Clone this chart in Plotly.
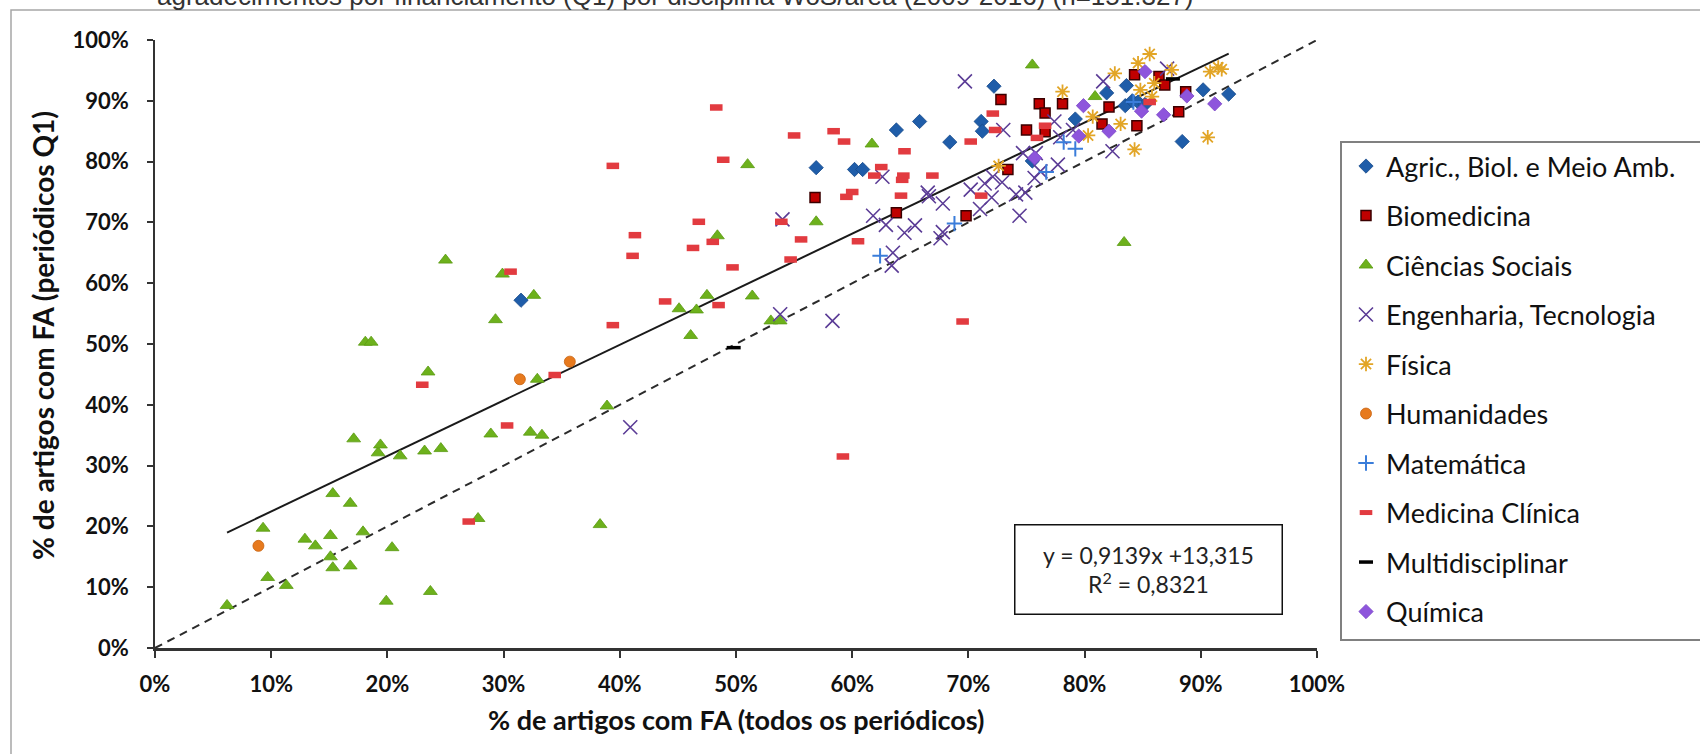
import plotly.graph_objects as go

# ---------------- data (percent values) ----------------
agric_x = [31.5, 56.9, 60.2, 60.9, 63.8, 65.8, 68.4, 71.1, 71.2, 72.2, 75.5, 79.2, 81.9, 83.6, 83.5, 84.1, 84.6, 85.2, 88.4, 90.2, 92.4]
agric_y = [57.2, 79.0, 78.7, 78.7, 85.2, 86.6, 83.2, 86.6, 85.0, 92.4, 80.1, 87.0, 91.3, 92.5, 89.2, 90.0, 89.8, 89.4, 83.3, 91.8, 91.1]

biomed_x = [56.8, 63.8, 69.8, 72.8, 73.4, 75.0, 76.1, 76.6, 76.6, 78.1, 81.5, 82.1, 84.3, 84.5, 86.4, 86.9, 88.1, 88.7]
biomed_y = [74.1, 71.6, 71.1, 90.2, 78.7, 85.2, 89.5, 88.0, 84.9, 89.5, 86.2, 89.0, 94.3, 85.9, 94.0, 92.6, 88.2, 91.5]

sociais_x = [6.2, 9.3, 9.7, 11.3, 12.9, 13.8, 15.1, 15.1, 15.3, 15.3, 16.8, 16.8, 17.1, 17.9, 18.1, 18.6,
             19.2, 19.4, 19.9, 20.4, 21.1, 23.2, 23.5, 23.7, 24.6, 25.0, 27.8, 28.9, 29.3, 29.9, 32.3,
             32.6, 32.9, 33.3, 38.3, 38.9, 45.1, 46.1, 46.6, 47.5, 48.4, 51.0, 51.4, 53.0, 53.8, 56.9,
             61.7, 75.5, 80.9, 83.4]
sociais_y = [7.0, 19.7, 11.6, 10.3, 17.9, 16.8, 18.5, 15.0, 13.2, 25.4, 23.8, 13.5, 34.4, 19.1, 50.3, 50.3,
             32.1, 33.4, 7.7, 16.5, 31.6, 32.4, 45.4, 9.3, 32.8, 63.8, 21.3, 35.2, 54.0, 61.5, 35.5,
             58.0, 44.2, 35.0, 20.3, 39.8, 55.8, 51.4, 55.6, 58.0, 67.8, 79.5, 57.9, 53.8, 53.8, 70.1,
             82.9, 95.9, 90.7, 66.7]

eng_x = [40.9, 53.8, 54.0, 58.3, 61.8, 62.6, 62.9, 63.5, 63.4, 64.5, 65.4, 66.5, 66.6, 67.8, 67.8, 67.6,
         69.7, 70.2, 71.0, 71.4, 72.1, 72.0, 72.9, 73.0, 74.1, 74.4, 74.7, 74.9, 75.8, 75.7, 76.2, 77.4,
         77.7, 77.9, 79.0, 81.6, 82.4, 87.1]
eng_y = [36.3, 54.9, 70.5, 53.8, 71.1, 77.5, 69.6, 65.0, 62.9, 68.3, 69.5, 74.9, 74.3, 73.1, 68.4, 67.4,
         93.2, 75.4, 72.2, 76.4, 77.5, 74.1, 76.6, 85.2, 74.6, 71.1, 81.4, 74.9, 81.4, 77.3, 78.4, 86.6,
         79.5, 84.0, 85.2, 93.2, 81.7, 95.3]

fisica_x = [72.6, 78.1, 80.3, 80.7, 82.6, 83.1, 84.3, 84.6, 84.8, 85.6, 85.8, 86.0, 87.5, 90.6, 90.8, 91.5, 91.8]
fisica_y = [79.3, 91.5, 84.3, 87.4, 94.5, 86.2, 82.0, 96.2, 91.8, 97.7, 90.7, 92.9, 95.1, 84.0, 94.8, 95.5, 95.2]

human_x = [8.9, 31.4, 35.7]
human_y = [16.8, 44.2, 47.1]

mat_x = [62.4, 68.8, 76.7, 78.2, 79.2, 84.2]
mat_y = [64.5, 69.8, 78.3, 83.2, 82.1, 89.8]

medclin_x = [23.0, 27.0, 30.3, 30.6, 34.4, 39.4, 39.4, 41.1, 41.3, 43.9, 46.3, 46.8, 48.0, 48.3, 48.5, 48.9,
             49.7, 53.9, 54.7, 55.0, 55.6, 58.4, 59.2, 59.3, 59.5, 60.0, 60.5, 61.9, 62.5, 64.2, 64.3, 64.4,
             64.5, 66.9, 69.5, 70.2, 71.1, 72.1, 72.3, 75.9, 76.6, 85.6]
medclin_y = [43.3, 20.8, 36.6, 61.9, 44.9, 79.3, 53.1, 64.5, 67.9, 57.0, 65.8, 70.1, 66.8, 88.9, 56.4, 80.3,
             62.6, 70.1, 63.9, 84.3, 67.2, 85.0, 31.5, 83.3, 74.2, 75.0, 66.9, 77.7, 79.1, 74.4, 77.0, 77.7,
             81.7, 77.7, 53.7, 83.3, 74.4, 87.9, 85.2, 83.9, 85.9, 89.8]

multi_x = [49.8, 87.6]
multi_y = [49.4, 93.6]

quim_x = [75.7, 79.5, 79.9, 82.1, 84.9, 85.2, 86.8, 88.8, 91.2]
quim_y = [80.6, 84.2, 89.2, 85.0, 88.3, 94.8, 87.7, 90.8, 89.5]

trend_slope = 0.9139
trend_intercept = 13.315
diag = [0, 100]
x_ticks = list(range(0, 101, 10))
y_ticks = list(range(0, 101, 10))

series_names = ["Agric., Biol. e Meio Amb.", "Biomedicina", "Ciências Sociais", "Engenharia, Tecnologia",
                "Física", "Humanidades", "Matemática", "Medicina Clínica", "Multidisciplinar", "Química"]

# ---------------- figure ----------------
W, H = 1700, 754
ML, MR, MT, MB = 155, 383, 40, 106
PW = W - ML - MR
PH = H - MT - MB


def px_x(px):
    return (px - ML) / PW


def px_y(py):
    return (H - MB - py) / PH


fig = go.Figure()

all_x = agric_x + biomed_x + sociais_x + eng_x + fisica_x + human_x + mat_x + medclin_x + multi_x + quim_x
tx = [min(all_x), max(all_x)]
ty = [trend_slope * v + trend_intercept for v in tx]

fig.add_trace(go.Scatter(x=diag, y=diag, mode="lines", showlegend=False, hoverinfo="skip",
                         line=dict(color="#2b2b2b", width=2, dash="8px,6px")))
fig.add_trace(go.Scatter(x=tx, y=ty, mode="lines", showlegend=False, hoverinfo="skip",
                         line=dict(color="#1a1a1a", width=2)))

styles = [
    (agric_x, agric_y, "diamond", 11, "#1F5DA9", "#174A8A", 0.8),
    (biomed_x, biomed_y, "square", 10, "#C00000", "#3a0000", 1.5),
    (sociais_x, sociais_y, "triangle-up", 12, "#6DB11C", "#5A9A12", 0.8),
    (eng_x, eng_y, "x-thin-open", 14, "#5B3C96", "#5B3C96", 1.6),
    (fisica_x, fisica_y, "asterisk-open", 12, "#E2A526", "#E2A526", 1.8),
    (human_x, human_y, "circle", 11, "#E77A1E", "#C8620F", 0.8),
    (mat_x, mat_y, "cross-thin-open", 11, "#3A7DDA", "#3A7DDA", 2),
    (medclin_x, medclin_y, "line-ew-open", 9, "#E23B40", "#E23B40", 6.5),
    (multi_x, multi_y, "line-ew-open", 10, "#000000", "#000000", 3.5),
    (quim_x, quim_y, "diamond", 11, "#8E55DC", "#7A45C6", 0.8),
]

for name, (xs, ys, sym, size, col, lcol, lw) in zip(series_names, styles):
    fig.add_trace(go.Scatter(
        x=xs, y=ys, mode="markers", name=name, legendgroup=name,
        marker=dict(symbol=sym, size=size, color=col, line=dict(color=lcol, width=lw)),
    ))

tick_font = dict(family="Lato", size=22, color="#111111", weight="bold")

fig.update_layout(
    width=W, height=H,
    margin=dict(l=ML, r=MR, t=MT, b=MB),
    paper_bgcolor="white", plot_bgcolor="white",
    showlegend=True,
    legend=dict(
        x=px_x(1346), y=px_y(142), xanchor="left", yanchor="top",
        font=dict(family="Lato", size=27, color="#111111"),
        traceorder="grouped", tracegroupgap=11.4,
        bgcolor="rgba(0,0,0,0)", borderwidth=0,
    ),
    xaxis=dict(
        range=[0, 100], tickvals=x_ticks, ticktext=[f"{v}%" for v in x_ticks],
        showgrid=False, zeroline=False, showline=True, linecolor="#333333", linewidth=2.5,
        ticks="outside", ticklen=7, tickwidth=1.5, tickcolor="#333333",
        tickfont=tick_font, ticklabelstandoff=8,
    ),
    yaxis=dict(
        range=[0, 100], tickvals=y_ticks, ticktext=[f"{v}%" for v in y_ticks],
        showgrid=False, zeroline=False, showline=True, linecolor="#333333", linewidth=1.5,
        ticks="outside", ticklen=6, tickwidth=1.5, tickcolor="#333333",
        tickfont=tick_font, ticklabelstandoff=14,
    ),
)

# outer frame and legend frame
fig.add_shape(type="rect", xref="paper", yref="paper",
              x0=px_x(11), x1=px_x(1760), y0=px_y(800), y1=px_y(10),
              line=dict(color="#a6a6a6", width=1.5), fillcolor="rgba(0,0,0,0)", layer="below")
fig.add_shape(type="rect", xref="paper", yref="paper",
              x0=px_x(1341), x1=px_x(1760), y0=px_y(640), y1=px_y(142),
              line=dict(color="#808080", width=2), fillcolor="rgba(0,0,0,0)")

# axis titles
fig.add_annotation(text="% de artigos com FA (todos os periódicos)", xref="paper", yref="paper",
                   x=0.5, y=px_y(719), xanchor="center", yanchor="middle", showarrow=False,
                   font=dict(family="Lato", size=27, color="#111111", weight="bold"))
fig.add_annotation(text="% de artigos com FA (periódicos Q1)", xref="paper", yref="paper",
                   x=px_x(43), y=px_y(336), xanchor="center", yanchor="middle", showarrow=False,
                   textangle=-90,
                   font=dict(family="Lato", size=28, color="#111111", weight="bold"))

# truncated caption at the very top
fig.add_annotation(text="agradecimentos por financiamento (Q1) por disciplina WoS/área (2009-2016) (n=151.327)",
                   xref="paper", yref="paper", x=px_x(155), y=px_y(13), xanchor="left", yanchor="bottom",
                   showarrow=False, font=dict(family="Liberation Sans", size=26, color="#333333"))

# regression equation box
fig.add_annotation(text="y = 0,9139x +13,315<br>R<sup>2</sup> = 0,8321", xref="paper", yref="paper",
                   x=px_x(1148), y=px_y(569), xanchor="center", yanchor="middle", showarrow=False,
                   width=262, height=84, borderpad=2, bordercolor="#111111", borderwidth=1.5,
                   bgcolor="white", align="center",
                   font=dict(family="Lato", size=23, color="#222222"))

fig.write_html("out.html")
